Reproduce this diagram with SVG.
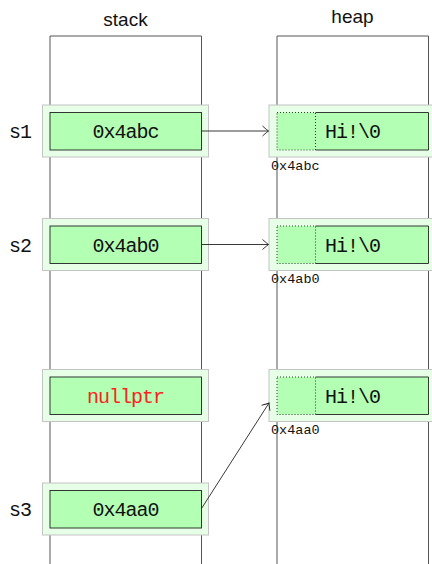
<svg xmlns="http://www.w3.org/2000/svg" width="432" height="564" viewBox="0 0 432 564">
<defs>
<style>
.col{fill:none;stroke:#555;stroke-width:1}
.outer{fill:#e6ffe6;stroke:#c4c4c4;stroke-width:1}
.inner{fill:#b3ffb3;stroke:#222;stroke-width:0.9}
.fill{fill:#b3ffb3;stroke:none}
.solid{fill:none;stroke:#222;stroke-width:0.9}
.dot{fill:none;stroke:#222;stroke-width:0.9;stroke-dasharray:1 2}
.mono{font-family:"Liberation Mono","Courier New",monospace;font-size:20px;letter-spacing:-1px;fill:#111}
.addr{font-family:"Liberation Mono","Courier New",monospace;font-size:13.5px;fill:#111}
.title{font-family:"Liberation Sans",Arial,sans-serif;font-size:19px;fill:#111;text-anchor:middle}
.red{fill:#ff2020}
.arrow{fill:none;stroke:#222;stroke-width:0.9}
</style>
<marker id="to" viewBox="-7 -6 8 12" refX="0" refY="0" markerWidth="8" markerHeight="12" markerUnits="userSpaceOnUse" orient="auto">
<path d="M-6,-5 Q-1.5,-1 0,0 Q-1.5,1 -6,5" fill="none" stroke="#222" stroke-width="0.9"/>
</marker>
</defs>
<g id="columns">
<text class="title" x="125.5" y="26">stack</text>
<path class="col" d="M50,564 V36 H201.5 V564"/>
<text class="title" x="352.5" y="23">heap</text>
<path class="col" d="M277,564 V36 H428.5 V564"/>
</g>
<g id="s1">
<rect class="outer" x="42.5" y="105" width="166" height="52"/>
<rect class="inner" x="50" y="112.5" width="151.5" height="37.5"/>
<text class="mono" x="125.5" y="138" text-anchor="middle">0x4abc</text>
<text class="mono" x="9" y="138">s1</text>
</g>
<g id="s2">
<rect class="outer" x="42.5" y="218.5" width="166" height="52"/>
<rect class="inner" x="50" y="226" width="151.5" height="37.5"/>
<text class="mono" x="125.5" y="251.5" text-anchor="middle">0x4ab0</text>
<text class="mono" x="9" y="251.5">s2</text>
</g>
<g id="nullptr">
<rect class="outer" x="42.5" y="369.5" width="166" height="52"/>
<rect class="inner" x="50" y="377" width="151.5" height="37.5"/>
<text class="mono red" x="125.5" y="402.5" text-anchor="middle">nullptr</text>
</g>
<g id="s3">
<rect class="outer" x="42.5" y="483" width="166" height="52"/>
<rect class="inner" x="50" y="490.5" width="151.5" height="37.5"/>
<text class="mono" x="125.5" y="516" text-anchor="middle">0x4aa0</text>
<text class="mono" x="9" y="516">s3</text>
</g>
<g id="heap1">
<rect class="outer" x="269" y="105" width="170" height="52"/>
<rect class="fill" x="277" y="112.5" width="151.5" height="37.5"/>
<path class="solid" d="M315.5,112.5 H428.5 V150 H315.5"/>
<rect class="dot" x="277" y="112.5" width="38.5" height="37.5"/>
<text class="mono" x="352.5" y="138" text-anchor="middle">Hi!\0</text>
<text class="addr" x="271" y="169.5">0x4abc</text>
</g>
<g id="heap2">
<rect class="outer" x="269" y="218.5" width="170" height="52"/>
<rect class="fill" x="277" y="226" width="151.5" height="37.5"/>
<path class="solid" d="M315.5,226 H428.5 V263.5 H315.5"/>
<rect class="dot" x="277" y="226" width="38.5" height="37.5"/>
<text class="mono" x="352.5" y="251.5" text-anchor="middle">Hi!\0</text>
<text class="addr" x="271" y="283">0x4ab0</text>
</g>
<g id="heap3">
<rect class="outer" x="269" y="369.5" width="170" height="52"/>
<rect class="fill" x="277" y="377" width="151.5" height="37.5"/>
<path class="solid" d="M315.5,377 H428.5 V414.5 H315.5"/>
<rect class="dot" x="277" y="377" width="38.5" height="37.5"/>
<text class="mono" x="352.5" y="402.5" text-anchor="middle">Hi!\0</text>
<text class="addr" x="271" y="433.5">0x4aa0</text>
</g>
<g id="connectors">
<path class="arrow" d="M201.5,131 H268.5" marker-end="url(#to)"/>
<path class="arrow" d="M201.5,244.5 H268.5" marker-end="url(#to)"/>
<path class="arrow" d="M201.5,508.5 L269,403" marker-end="url(#to)"/>
</g>
</svg>
